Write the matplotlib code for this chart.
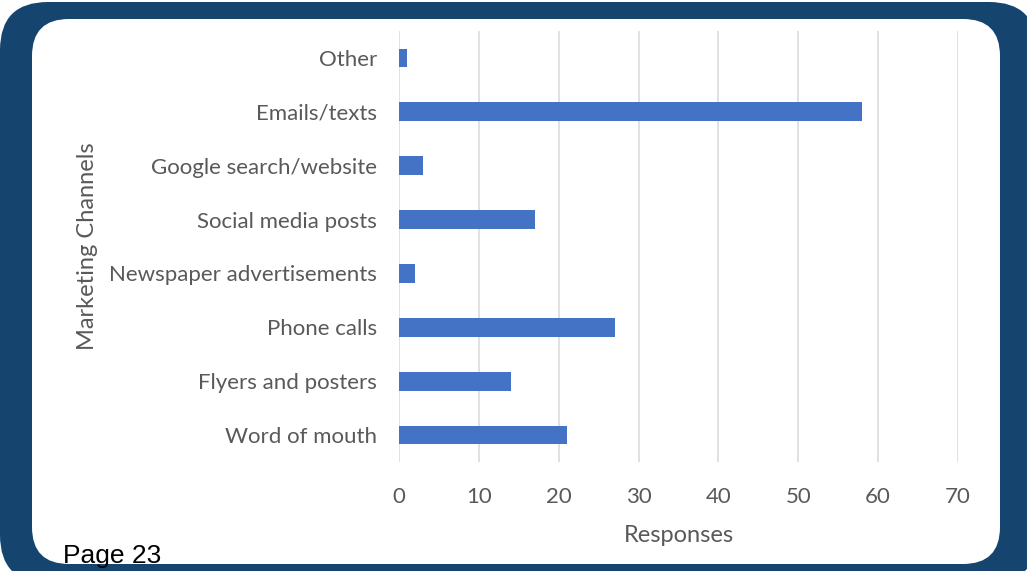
import matplotlib.pyplot as plt
from matplotlib.patches import FancyBboxPatch

plt.rcParams["font.family"] = ["Lato", "DejaVu Sans"]

# survey answers: how people heard about the programme
channels = ["Word of mouth", "Flyers and posters", "Phone calls",
            "Newspaper advertisements", "Social media posts",
            "Google search/website", "Emails/texts", "Other"]
responses = [21, 14, 27, 2, 17, 3, 58, 1]
x_ticks = [0, 10, 20, 30, 40, 50, 60, 70]

W, H = 1027, 571
fig = plt.figure(figsize=(W / 100, H / 100), dpi=100)
fig.patch.set_facecolor("white")

# page frame: dark blue rounded border with white card inside
bg = fig.add_axes([0, 0, 1, 1])
bg.set_xlim(0, W)
bg.set_ylim(H, 0)
bg.axis("off")
bg.add_patch(FancyBboxPatch((0, 2), W + 10, H + 10,
                            boxstyle="round,pad=0,rounding_size=48",
                            fc="#15446f", ec="none"))
bg.add_patch(FancyBboxPatch((32, 19), 968, 545,
                            boxstyle="round,pad=0,rounding_size=37",
                            fc="white", ec="none"))

# chart area
left, right, top, bottom = 399, 958, 31, 462
ax = fig.add_axes([left / W, (H - bottom) / H, (right - left) / W, (bottom - top) / H])
ax.patch.set_alpha(0)

ax.barh(range(len(channels)), responses, height=0.35, color="#4472c4", zorder=3)

ax.set_xlim(0, 70)
ax.set_ylim(-0.5, len(channels) - 0.5)
ax.set_xticks(x_ticks)
ax.set_yticks(range(len(channels)))
ax.set_yticklabels(channels)
ax.grid(axis="x", color="#d9d9d9", linewidth=1.1, zorder=0)
for s in ax.spines.values():
    s.set_visible(False)

grey = "#595959"
ax.tick_params(axis="both", length=0, labelsize=16, labelcolor=grey)
ax.tick_params(axis="x", pad=18)
ax.tick_params(axis="y", pad=16)
ax.set_xlabel("Responses", fontsize=17, color=grey, labelpad=13)
ax.set_ylabel("Marketing Channels", fontsize=17, color=grey, labelpad=8)

fig.text(63 / W, 1 - 563 / H, "Page 23", fontsize=19, color="black",
         family="Liberation Sans", va="baseline", ha="left")

fig.savefig("out.png", dpi=100)
